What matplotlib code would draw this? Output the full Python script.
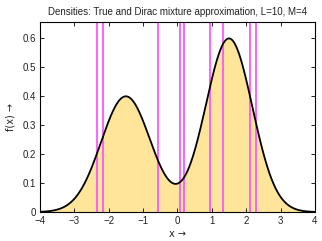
"""
True density vs Dirac mixture approximation
"""
import matplotlib
matplotlib.use('Agg')
import matplotlib.pyplot as plt
import numpy as np

# two-component density
means = [-1.5, 1.5]
heights = [0.40, 0.60]
sigmas = [0.72, 0.68]

# Dirac locations
diracs = [-2.34, -2.16, -0.576, 0.081, 0.198, 0.937, 1.315, 2.109, 2.275]

xticks = [-4, -3, -2, -1, 0, 1, 2, 3, 4]
yticks = [0, 0.1, 0.2, 0.3, 0.4, 0.5, 0.6]


def density(x):
    f = np.zeros_like(x)
    for m, h, s in zip(means, heights, sigmas):
        f += h * np.exp(-(x - m) ** 2 / (2 * s ** 2))
    return f


x = np.linspace(-4, 4, 801)
f = density(x)

plt.rcParams['font.family'] = ['Liberation Sans', 'DejaVu Sans']
fig = plt.figure(figsize=(3.22, 2.41), dpi=100)
ax = fig.add_axes([0.124, 0.120, 0.854, 0.789])

ax.fill_between(x, 0, f, color='#ffe599', lw=0, zorder=1)
for d in diracs:
    ax.axvline(d, color='#ff55ff', lw=1.3, zorder=2)
ax.plot(x, f, color='black', lw=1.3, zorder=3)

ax.set_xlim(-4, 4)
ax.set_ylim(0, 0.657)
ax.set_xticks(xticks)
ax.set_xticklabels(['\u2212%d' % -t if t < 0 else '%d' % t for t in xticks])
ax.set_yticks(yticks)
ax.set_yticklabels(['0'] + ['%.1f' % t for t in yticks[1:]])
ax.tick_params(direction='in', top=True, right=True, labelsize=7,
               length=3, width=0.6, pad=3, labelcolor='#222222')
for s in ax.spines.values():
    s.set_linewidth(0.8)

# arrows look wider in the original, DejaVu has that glyph
ax.set_xlabel('x \u2192', fontsize=7, labelpad=2, color='#222222',
              family='DejaVu Sans')
ax.set_ylabel('f(x) \u2192', fontsize=7, labelpad=5, color='#222222',
              family='DejaVu Sans')
ax.set_title('Densities: True and Dirac mixture approximation, L=10, M=4',
             fontsize=7, pad=5, color='#222222')

fig.savefig('out.png', dpi=100)
